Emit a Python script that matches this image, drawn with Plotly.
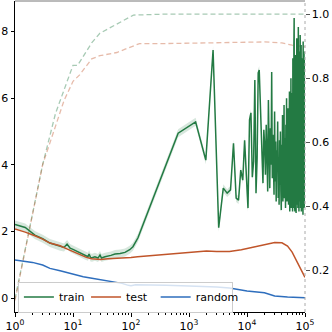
import plotly.graph_objects as go

# train loss: early logged steps, then one point per epoch (650 steps)
train_early_x = [1, 1.5, 2.2, 3, 4, 5, 6, 7, 7.9, 8.9, 10, 13.2, 16, 18.1, 18.9, 20, 21.3,
                 23.9, 27, 29.2, 31, 35.6, 45, 53, 65, 78.8, 95, 108, 132]
train_early_y = [2.21, 2.12, 1.89, 1.78, 1.65, 1.60, 1.54, 1.52, 1.62, 1.50, 1.46, 1.35, 1.28,
                 1.24, 1.32, 1.22, 1.21, 1.24, 1.20, 1.29, 1.20, 1.24, 1.28, 1.32, 1.34, 1.37,
                 1.45, 1.54, 1.81]
steps_per_epoch = 650
train_epoch_y = [
    4.95, 5.29, 4.14, 7.45, 2.11, 3.30, 3.15, 3.25, 4.65, 3.00,
    2.94, 3.84, 3.54, 4.74, 3.40, 2.70, 5.35, 5.56, 3.63, 4.10,
    6.55, 3.15, 4.20, 6.76, 6.85, 5.90, 4.83, 3.90, 3.45, 5.05,
    4.60, 3.70, 5.20, 4.30, 3.20, 5.95, 4.10, 3.30, 5.10, 4.00,
    6.79, 3.60, 4.90, 4.14, 3.10, 5.60, 3.50, 4.70, 2.90, 4.44,
    3.80, 5.30, 3.00, 4.20, 2.80, 4.74, 3.40, 5.00, 3.20, 2.64,
    4.60, 3.30, 5.50, 2.90, 4.10, 3.60, 5.80, 3.00, 3.33, 4.80,
    2.70, 5.20, 3.50, 6.00, 2.90, 4.40, 3.10, 5.70, 5.26, 2.80,
    4.50, 3.40, 6.20, 2.60, 2.94, 5.10, 3.80, 6.60, 2.70, 4.30,
    6.16, 3.10, 5.40, 2.60, 7.20, 3.50, 4.80, 2.70, 7.60, 8.41,
    3.00, 5.90, 2.60, 6.80, 3.40, 7.30, 4.20, 2.55, 6.40, 3.20,
    7.80, 2.80, 5.60, 3.60, 7.10, 2.70, 6.20, 8.14, 3.10, 5.00,
    2.60, 7.40, 3.80, 6.60, 2.90, 3.24, 7.90, 4.40, 2.70, 6.90,
    3.30, 7.60, 2.60, 5.80, 7.45, 3.00, 6.30, 2.80, 7.20, 3.60,
    5.40, 2.50, 7.70, 4.10, 2.94, 6.70, 3.20, 7.40, 2.70, 6.00,
    3.50, 7.00, 7.15,
]
train_spread = 0.12

test_x = [1, 1.5, 2.2, 3, 4, 6, 8, 10, 13, 17, 21, 25, 30, 40, 55, 75, 100, 130, 200, 400,
          800, 1300, 2000, 3000, 5000, 8000, 10000, 15000, 20000, 25000, 30000, 40000,
          50000, 60000, 70000, 80000, 90000, 100000]
test_y = [2.07, 1.98, 1.87, 1.77, 1.65, 1.57, 1.47, 1.39, 1.30, 1.22, 1.18, 1.16, 1.16, 1.18,
          1.19, 1.20, 1.22, 1.24, 1.27, 1.31, 1.36, 1.40, 1.41, 1.40, 1.40, 1.45, 1.49, 1.56,
          1.62, 1.66, 1.67, 1.66, 1.56, 1.38, 1.15, 0.92, 0.74, 0.62]

random_x = [1, 1.5, 2, 3, 4, 6, 8, 10, 15, 20, 30, 40, 50, 70, 90, 100, 120, 200, 400, 1000,
            2000, 3000, 5000, 8000, 10000, 20000, 25000, 30000, 50000, 100000]
random_y = [1.14, 1.10, 1.07, 0.99, 0.89, 0.82, 0.76, 0.72, 0.64, 0.60, 0.55, 0.52, 0.49, 0.44,
            0.38, 0.37, 0.40, 0.40, 0.38, 0.36, 0.35, 0.33, 0.30, 0.24, 0.21, 0.16, 0.10, 0.06,
            0.03, 0.01]

train_acc_x = [1, 3, 5, 7, 10, 12, 21, 29, 57, 110, 400, 100000]
train_acc_y = [0.11, 0.53, 0.69, 0.76, 0.84, 0.84, 0.91, 0.94, 0.97, 0.997, 1.0, 1.0]
test_acc_x = [1, 3, 5, 7, 10, 13, 21, 29, 57, 110, 140, 400, 3000, 20000, 40000, 60000, 100000]
test_acc_y = [0.105, 0.53, 0.65, 0.73, 0.79, 0.81, 0.86, 0.87, 0.88, 0.90, 0.908, 0.908, 0.91,
              0.913, 0.91, 0.903, 0.898]

x_ticks = [1, 10, 100, 1000, 10000, 100000]
x_ticktext = ["10<sup>0</sup>", "10<sup>1</sup>", "10<sup>2</sup>", "10<sup>3</sup>",
              "10<sup>4</sup>", "10<sup>5</sup>"]
minor_ticks = [m * 10 ** d for d in range(5) for m in range(2, 10)]
loss_ticks = [0, 2, 4, 6, 8]
acc_ticks = [0.2, 0.4, 0.6, 0.8, 1.0]

GREEN = "#237a43"
ORANGE = "#c0552a"
BLUE = "#2e6ebd"

train_x = train_early_x + [steps_per_epoch * (i + 1) for i in range(len(train_epoch_y))]
train_y = train_early_y + train_epoch_y
upper = [v + train_spread for v in train_y]
lower = [v - train_spread for v in train_y]

fig = go.Figure()

# accuracy (right axis, drawn underneath)
fig.add_trace(go.Scatter(x=train_acc_x, y=train_acc_y, mode="lines", yaxis="y", showlegend=False,
                         line=dict(color="rgba(35,122,67,0.4)", width=1.3, dash="5px,3px")))
fig.add_trace(go.Scatter(x=test_acc_x, y=test_acc_y, mode="lines", yaxis="y", showlegend=False,
                         line=dict(color="rgba(192,85,42,0.4)", width=1.3, dash="5px,3px")))

# losses (left axis, overlay)
fig.add_trace(go.Scatter(x=train_x + train_x[::-1], y=upper + lower[::-1], yaxis="y2",
                         fill="toself", fillcolor="rgba(35,122,67,0.18)",
                         line=dict(width=0), showlegend=False, hoverinfo="skip"))
fig.add_trace(go.Scatter(x=train_x, y=train_y, mode="lines", name="train", yaxis="y2",
                         legend="legend", line=dict(color=GREEN, width=1.5)))
fig.add_trace(go.Scatter(x=test_x, y=test_y, mode="lines", name="test", yaxis="y2",
                         legend="legend2", line=dict(color=ORANGE, width=1.5)))
fig.add_trace(go.Scatter(x=random_x, y=random_y, mode="lines", name="random", yaxis="y2",
                         legend="legend3", line=dict(color=BLUE, width=1.5)))

leg = dict(orientation="h", yanchor="middle", y=0.048, xanchor="left",
           bgcolor="rgba(0,0,0,0)", borderwidth=0, font=dict(size=11), itemwidth=30)

fig.update_layout(
    width=332, height=332,
    margin=dict(l=15, r=27, t=1, b=20),
    plot_bgcolor="white", paper_bgcolor="white",
    font=dict(family="DejaVu Sans", size=11, color="black"),
    xaxis=dict(type="log", range=[0, 5], tickvals=x_ticks, ticktext=x_ticktext,
               automargin=False,
               showgrid=False, zeroline=False, showline=True, linecolor="black", linewidth=1,
               ticks="outside", ticklen=3.5, tickcolor="black",
               minor=dict(tickvals=minor_ticks, ticks="outside", ticklen=2, tickcolor="black")),
    yaxis=dict(side="right", range=[0.069, 1.041], tickvals=acc_ticks,
               ticktext=["0.2", "0.4", "0.6", "0.8", "1.0"], automargin=False,
               showgrid=False, zeroline=False, showline=False,
               ticks="outside", ticklen=3.5, tickcolor="#555"),
    yaxis2=dict(side="left", overlaying="y", range=[-0.42, 8.92], tickvals=loss_ticks,
                automargin=False,
                showgrid=False, zeroline=False, showline=True, linecolor="black", linewidth=1,
                ticks="outside", ticklen=3.5, tickcolor="black"),
    # first legend carries the frame, widened to hold all three entries
    legend=dict(leg, x=0.01, bgcolor="rgba(255,255,255,0.8)", bordercolor="#ccc",
                borderwidth=1, entrywidth=168),
    legend2=dict(leg, x=0.245),
    legend3=dict(leg, x=0.485),
    shapes=[
        dict(type="line", xref="paper", yref="paper", x0=0, x1=1, y0=1, y1=1,
             line=dict(color="#777", width=1)),
        dict(type="line", xref="paper", yref="paper", x0=1, x1=1, y0=0, y1=1,
             line=dict(color="#aaa", width=1, dash="dot")),
    ],
)

fig.write_html("out.html", config={"displayModeBar": False},
               post_script="document.body.style.margin='0';")
